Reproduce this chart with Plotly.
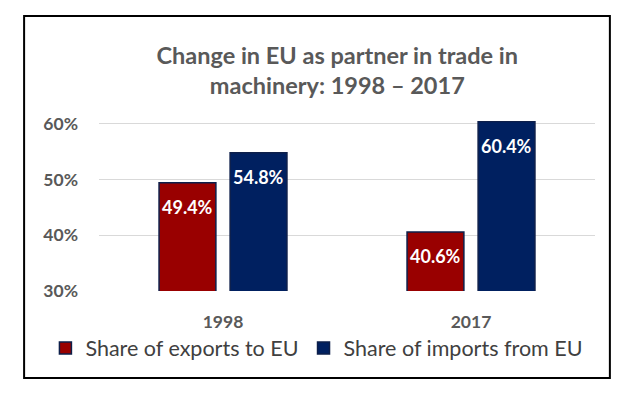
import plotly.graph_objects as go

years = ["1998", "2017"]
exports_share = [49.4, 40.6]
imports_share = [54.8, 60.4]
series_names = ["Share of exports to EU", "Share of imports from EU"]
tick_vals = [30, 40, 50, 60]
tick_text = ["30%", "40%", "50%", "60%"]

red = "#990000"
navy = "#002060"
grey = "#595959"
font_family = "Lato, 'Open Sans', sans-serif"

fig = go.Figure()
fig.add_trace(go.Bar(x=years, y=exports_share, name=series_names[0],
                     marker=dict(color=red, line=dict(color="#0d1f4a", width=1.5)),
                     hoverinfo="skip"))
fig.add_trace(go.Bar(x=years, y=imports_share, name=series_names[1],
                     marker=dict(color=navy, line=dict(color="#0d1f4a", width=1.5)),
                     hoverinfo="skip"))

# data labels placed at the top inside each bar
for si, vals in enumerate([exports_share, imports_share]):
    for ci, v in enumerate(vals):
        fig.add_annotation(x=ci + (-0.143 if si == 0 else 0.143), y=v, xref="x", yref="y",
                           text=f"{v:.1f}%", showarrow=False, yshift=-24,
                           font=dict(family=font_family, size=18, color="white", weight="bold"))

fig.update_layout(
    width=634, height=397,
    margin=dict(l=99, r=39, t=121, b=106),
    paper_bgcolor="white", plot_bgcolor="white",
    barmode="group", bargap=0.427, bargroupgap=0.2,
    title=dict(text="Change in EU as partner in trade in<br>machinery: 1998 – 2017",
               x=0.532, xanchor="center", y=0.839, yanchor="middle", yref="container",
               font=dict(family=font_family, size=23.5, color=grey, weight="bold")),
    showlegend=True,
    legend=dict(orientation="h", x=-0.108, xanchor="left", y=-0.335, yanchor="middle",
                font=dict(family=font_family, size=21.5, color="#404040"),
                itemwidth=30, tracegroupgap=0, bgcolor="rgba(0,0,0,0)"),
    xaxis=dict(type="category", showgrid=False, showline=False, ticks="",
               ticklabelstandoff=18,
               tickfont=dict(family=font_family, size=17.5, color=grey, weight="bold")),
    yaxis=dict(range=[30, 60.5], tickvals=tick_vals, ticktext=tick_text,
               showgrid=True, gridcolor="#d9d9d9", gridwidth=1.2, zeroline=False,
               showline=False, ticks="", ticklabelstandoff=20,
               tickfont=dict(family=font_family, size=17.5, color=grey, weight="bold")),
    shapes=[dict(type="rect", xref="paper", yref="paper",
                 x0=-0.151, x1=1.030, y0=-0.512, y1=1.618,
                 line=dict(color="black", width=2), fillcolor="rgba(0,0,0,0)", layer="below")],
)

fig.write_html("out.html", config={"displayModeBar": False},
               post_script="document.body.style.margin='0';")
